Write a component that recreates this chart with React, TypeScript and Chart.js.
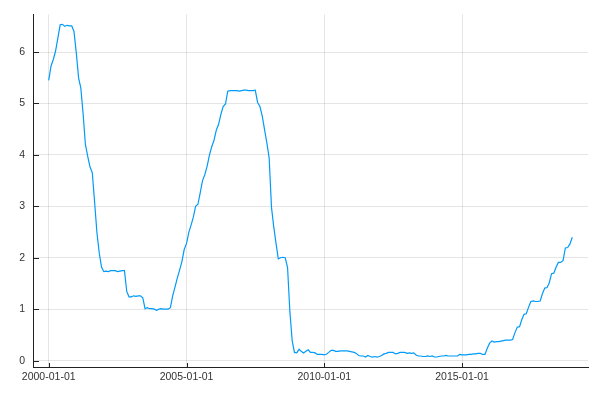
import React, { useEffect, useRef } from "react";
import { Chart, registerables } from "chart.js";

Chart.register(...registerables);

// Monthly effective federal funds rate, starting 2000-01
const startYear = 2000;
const startMonth = 1;
const rates: number[] = [
  // 2000
  5.45, 5.73, 5.85, 6.02, 6.27, 6.53, 6.54, 6.5, 6.52, 6.51, 6.51, 6.4,
  // 2001
  5.98, 5.49, 5.31, 4.8, 4.21, 3.97, 3.77, 3.65, 3.07, 2.49, 2.09, 1.82,
  // 2002
  1.73, 1.74, 1.73, 1.75, 1.75, 1.75, 1.73, 1.74, 1.75, 1.75, 1.34, 1.24,
  // 2003
  1.24, 1.26, 1.25, 1.26, 1.26, 1.22, 1.01, 1.03, 1.01, 1.01, 1.0, 0.98,
  // 2004
  1.0, 1.01, 1.0, 1.0, 1.0, 1.03, 1.26, 1.43, 1.61, 1.76, 1.93, 2.16,
  // 2005
  2.28, 2.5, 2.63, 2.79, 3.0, 3.04, 3.26, 3.5, 3.62, 3.78, 4.0, 4.16,
  // 2006
  4.29, 4.49, 4.59, 4.79, 4.94, 4.99, 5.24, 5.25, 5.25, 5.25, 5.25, 5.24,
  // 2007
  5.25, 5.26, 5.26, 5.25, 5.25, 5.25, 5.26, 5.02, 4.94, 4.76, 4.49, 4.24,
  // 2008
  3.94, 2.98, 2.61, 2.28, 1.98, 2.0, 2.01, 2.0, 1.81, 0.97, 0.39, 0.16,
  // 2009
  0.15, 0.22, 0.18, 0.15, 0.18, 0.21, 0.16, 0.16, 0.15, 0.12, 0.12, 0.12,
  // 2010
  0.11, 0.13, 0.16, 0.2, 0.2, 0.18, 0.18, 0.19, 0.19, 0.19, 0.19, 0.18,
  // 2011
  0.17, 0.16, 0.14, 0.1, 0.09, 0.09, 0.07, 0.1, 0.08, 0.07, 0.08, 0.07,
  // 2012
  0.08, 0.1, 0.13, 0.14, 0.16, 0.16, 0.16, 0.13, 0.14, 0.16, 0.16, 0.16,
  // 2013
  0.14, 0.15, 0.14, 0.15, 0.11, 0.09, 0.09, 0.08, 0.08, 0.09, 0.08, 0.09,
  // 2014
  0.07, 0.07, 0.08, 0.09, 0.09, 0.1, 0.09, 0.09, 0.09, 0.09, 0.09, 0.12,
  // 2015
  0.11, 0.11, 0.11, 0.12, 0.12, 0.13, 0.13, 0.14, 0.14, 0.12, 0.12, 0.24,
  // 2016
  0.34, 0.38, 0.36, 0.37, 0.37, 0.38, 0.39, 0.4, 0.4, 0.4, 0.41, 0.54,
  // 2017
  0.65, 0.66, 0.79, 0.9, 0.91, 1.04, 1.15, 1.16, 1.15, 1.15, 1.16, 1.3,
  // 2018
  1.41, 1.42, 1.51, 1.69, 1.7, 1.82, 1.91, 1.91, 1.95, 2.19, 2.2, 2.27,
  // 2019
  2.4,
];

const xTickYears = [2000, 2005, 2010, 2015];
const yTicks = [0, 1, 2, 3, 4, 5, 6];

const DAY = 86400000;
const base = Date.UTC(2000, 0, 1);
const toDays = (y: number, m: number) => (Date.UTC(y, m - 1, 1) - base) / DAY;
const fmt = (d: number) => {
  const dt = new Date(base + d * DAY);
  const y = dt.getUTCFullYear();
  const m = String(dt.getUTCMonth() + 1).padStart(2, "0");
  const dd = String(dt.getUTCDate()).padStart(2, "0");
  return `${y}-${m}-${dd}`;
};

export default function App() {
  const ref = useRef<HTMLCanvasElement>(null);

  useEffect(() => {
    document.body.style.margin = "0";
    const points = rates.map((v, i) => {
      const mi = startMonth - 1 + i;
      return { x: toDays(startYear + Math.floor(mi / 12), (mi % 12) + 1), y: v };
    });
    const xs = points.map((p) => p.x);
    const ys = points.map((p) => p.y);
    const x0 = Math.min(...xs), x1 = Math.max(...xs);
    const y0 = Math.min(...ys), y1 = Math.max(...ys);
    const xPad = (x1 - x0) * 0.03, yPad = (y1 - y0) * 0.03;

    const innerTicks = {
      id: "innerTicks",
      afterDraw(chart: any) {
        const { ctx, chartArea, scales } = chart;
        ctx.save();
        ctx.strokeStyle = "#222";
        ctx.lineWidth = 1;
        ctx.beginPath();
        scales.y.ticks.forEach((t: any) => {
          const py = Math.round(scales.y.getPixelForValue(t.value)) + 0.5;
          ctx.moveTo(chartArea.left, py);
          ctx.lineTo(chartArea.left + 6, py);
        });
        scales.x.ticks.forEach((t: any) => {
          const px = Math.round(scales.x.getPixelForValue(t.value)) + 0.5;
          ctx.moveTo(px, chartArea.bottom);
          ctx.lineTo(px, chartArea.bottom - 4);
        });
        ctx.stroke();
        ctx.restore();
      },
    };

    const font = { family: "'Liberation Sans', Arial, sans-serif", size: 10.5 };

    const chart = new Chart(ref.current!, {
      type: "line",
      data: {
        datasets: [
          {
            data: points,
            borderColor: "#009af9",
            borderWidth: 1.2,
            pointRadius: 0,
            tension: 0,
            fill: false,
          },
        ],
      },
      options: {
        animation: false,
        responsive: false,
        parsing: false as any,
        layout: { padding: { top: 12, right: 12, left: 0, bottom: 0 } },
        plugins: { legend: { display: false }, tooltip: { enabled: false } },
        scales: {
          x: {
            type: "linear",
            min: x0 - xPad,
            max: x1 + xPad,
            afterBuildTicks: (s: any) => {
              s.ticks = xTickYears.map((y) => ({ value: toDays(y, 1) }));
            },
            afterFit: (s: any) => {
              s.height = 33;
            },
            ticks: {
              callback: (v: any) => fmt(Number(v)),
              font,
              color: "#333",
              padding: 4,
              maxRotation: 0,
              autoSkip: false,
            },
            grid: { color: "rgba(0,0,0,0.1)", drawTicks: false },
            border: { display: true, color: "#222", width: 1 },
          },
          y: {
            type: "linear",
            min: y0 - yPad,
            max: y1 + yPad,
            afterBuildTicks: (s: any) => {
              s.ticks = yTicks.map((v) => ({ value: v }));
            },
            afterFit: (s: any) => {
              s.width = 33;
            },
            ticks: { font, color: "#333", padding: 8 },
            grid: { color: "rgba(0,0,0,0.1)", drawTicks: false },
            border: { display: true, color: "#222", width: 1 },
          },
        },
      },
      plugins: [innerTicks],
    });
    return () => chart.destroy();
  }, []);

  return (
    <div style={{ width: 600, height: 400 }}>
      <canvas ref={ref} width={600} height={400} />
    </div>
  );
}
